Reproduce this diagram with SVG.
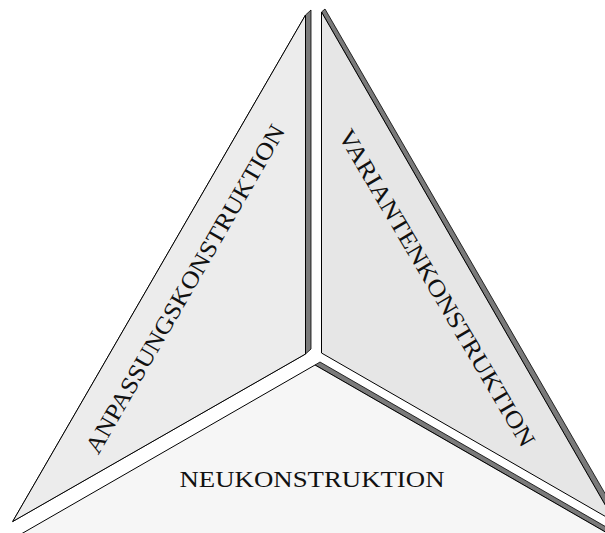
<svg xmlns="http://www.w3.org/2000/svg" width="605" height="533" viewBox="0 0 605 533">
<style>
.shadow{fill:#7a7a7a;stroke:#000;stroke-width:0.8;stroke-linejoin:miter}
.face{stroke:#000;stroke-width:1;stroke-linejoin:miter}
.lbl{font-family:"Liberation Serif","DejaVu Serif",serif;font-size:24px;fill:#111}
</style>
<rect width="605" height="533" fill="#fff"/>
<g id="left">
<polygon class="shadow" points="311,10 311,349 305.5,354 12.7,521.5 305.5,15"/>
<polygon class="face" fill="#ececec" points="305.5,15 305.5,354 12.7,521.5"/>
<text class="lbl" transform="translate(192,293) rotate(-60)" text-anchor="middle" textLength="375" lengthAdjust="spacingAndGlyphs">ANPASSUNGSKONSTRUKTION</text>
</g>
<g id="right">
<polygon class="shadow" points="321.5,12 325,9 625,528 615,522"/>
<polygon class="face" fill="#e6e6e6" points="321.5,12 321.5,353 615,522"/>
<text class="lbl" transform="translate(430,292) rotate(59.5)" text-anchor="middle" textLength="364" lengthAdjust="spacingAndGlyphs">VARIANTENKONSTRUKTION</text>
</g>
<g id="bottom">
<polygon class="shadow" points="315,365 320,362 627,539 620,540.4"/>
<polygon class="face" fill="#f6f6f6" points="315,365 620,540.4 10.7,540"/>
<text class="lbl" x="312" y="487" font-size="25" text-anchor="middle" textLength="265" lengthAdjust="spacingAndGlyphs">NEUKONSTRUKTION</text>
</g>
<g id="connectors"/>
</svg>
